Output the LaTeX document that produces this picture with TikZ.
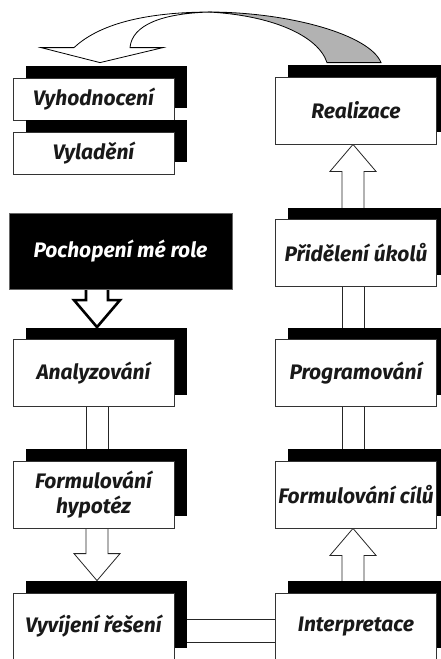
\documentclass[tikz,border=0pt]{standalone}
\usepackage{fontspec}
\setmainfont{Fira Sans}
\usepackage{xcolor}
\definecolor{ribbongray}{RGB}{178,178,178}
\usepackage{tikz}
\usetikzlibrary{calc}
\usetikzlibrary{shadows}
\usetikzlibrary{backgrounds}
\newcommand{\widthbox}{161pt}
\newcommand{\heightbox}{67pt}
\newcommand{\fatdown}[4][fat]{%
  \path[#1] ($(#4 |- #2.center)+(-11,0)$)
    -- ($(#4 |- #3.north)+(-11,-39)$) -- ($(#4 |- #3.north)+(-23,-39)$)
    -- ($(#4 |- #3.north)+(0,-12)$)
    -- ($(#4 |- #3.north)+(23,-39)$) -- ($(#4 |- #3.north)+(11,-39)$)
    -- ($(#4 |- #2.center)+(11,0)$);
}
\newcommand{\fatup}[4][fat]{%
  \path[#1] ($(#4 |- #2.center)+(-11,0)$)
    -- ($(#4 |- #3.south)+(-11,27)$) -- ($(#4 |- #3.south)+(-23,27)$)
    -- (#4 |- #3.south)
    -- ($(#4 |- #3.south)+(23,27)$) -- ($(#4 |- #3.south)+(11,27)$)
    -- ($(#4 |- #2.center)+(11,0)$);
}
\newcommand{\fatshaft}[3]{%
  \path[fat] ($(#3 |- #1.center)+(-11,0)$) rectangle ($(#3 |- #2.center)+(11,0)$);
}
\tikzset{
    common/.style={draw=black!80, rectangle, fill=white, line width=0.8pt, inner sep=0pt, align=center,
        text=black!90, font=\fontsize{21}{25}\selectfont\bfseries\itshape},
    stepbox/.style={common, minimum width=\widthbox, minimum height=\heightbox,
        drop shadow={shadow xshift=12.5pt, shadow yshift=12pt, fill=black, opacity=1}},
    flatbox/.style={stepbox, minimum height=42pt},
    rolebox/.style={common, fill=black, draw=black!60, text=white, minimum width=223pt, minimum height=76pt},
    fat/.style={draw=black!85, fill=white, line width=0.8pt, line join=miter},
    fatthick/.style={fat, draw=black, line width=2.6pt},
    ribbon/.style={draw=black, fill=white, line width=0.8pt},
    ribbonback/.style={ribbon, fill=ribbongray}
}

\begin{document}
\begin{tikzpicture}[x=1pt, y=-1pt]
      \useasboundingbox (0,0) rectangle (440,659);
      \coordinate (left-axis) at (97,0);
      \coordinate (right-axis) at (353,0);

      \path
          (93.5,0)
          +(0,99) node[flatbox] (vyhodnoceni) {Vyhodnocení}
          +(0,153) node[flatbox] (vyladeni) {Vyladění}
          +(27,251) node[rolebox] (role) {Pochopení mé role}
          +(0,373) node[stepbox] (analyzovani) {Analyzování}
          +(0,494.5) node[stepbox] (hypotezy) {Formulování\\hypotéz}
          +(0,626.5) node[stepbox] (vyvijeni) {Vyvíjení řešení};

      \path
          (356,0)
          +(0,110.5) node[stepbox] (realizace) {Realizace}
          +(0,253) node[stepbox] (prideleni) {Přidělení úkolů}
          +(0,373) node[stepbox] (programovani) {Programování}
          +(0,494.5) node[stepbox] (cile) {Formulování cílů}
          +(0,626.5) node[stepbox] (interpretace) {Interpretace};

      \begin{scope}[on background layer]
        \fatdown[fatthick]{role}{analyzovani}{left-axis}
        \fatshaft{analyzovani}{hypotezy}{left-axis}
        \fatdown{hypotezy}{vyvijeni}{left-axis}
        \path[fat] ($(vyvijeni.center)+(0,-7.5)$) rectangle ($(interpretace.center)+(0,15.5)$);
        \fatup{interpretace}{cile}{right-axis}
        \fatshaft{programovani}{cile}{right-axis}
        \fatshaft{prideleni}{programovani}{right-axis}
        \fatup{prideleni}{realizace}{right-axis}
      \end{scope}

      \coordinate (swoop-tip) at ($(vyhodnoceni.north)+(6.5,-15)$);
      \coordinate (swoop-foot) at ($(realizace.north)+(0,-14)$);
      \path[ribbon] (swoop-tip) -- ($(swoop-tip)+(-59,-15)$) -- ($(swoop-tip)+(-26,-15)$)
          .. controls (95,28) and (135,12) .. (212,12)
          .. controls (162,13) and (132,25) .. ($(swoop-tip)+(30,-15)$)
          -- ($(swoop-tip)+(63,-15)$) -- cycle;
      \path[ribbonback] (208,12) .. controls (290,12) and (370,35) .. ($(swoop-foot)+(25,0)$)
          -- ($(swoop-foot)+(-29,0)$) .. controls (318,35) and (270,15) .. (208,12) -- cycle;
\end{tikzpicture}
\end{document}
